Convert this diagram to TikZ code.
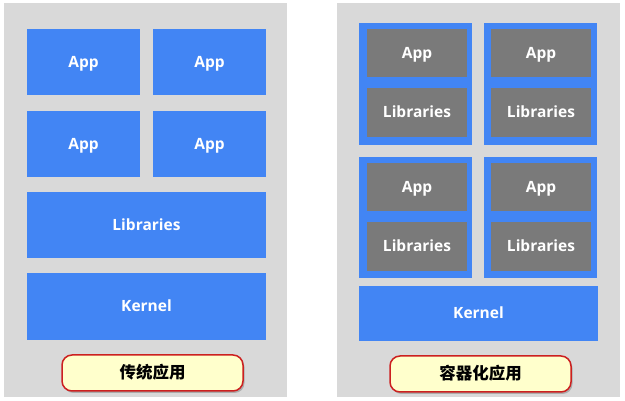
\documentclass[tikz,border=0pt]{standalone}
\usepackage{fontspec}
\setmainfont{Open Sans}
\newfontfamily\cjk{Noto Sans CJK SC}
\usetikzlibrary{shapes,arrows,positioning,shadows}
\definecolor{appblue}{HTML}{4285F4}
\definecolor{boxgray}{HTML}{7A7A7A}
\definecolor{panelgray}{HTML}{D9D9D9}
\definecolor{tagfill}{HTML}{FFFFCC}
\definecolor{tagred}{HTML}{CC2020}

\begin{document}
\begin{tikzpicture}[x=1pt,y=-1pt]
	\tikzstyle{every node}=[font=\bfseries\fontsize{15.5}{17}\selectfont, text=white, inner sep=0pt,
	text height=11pt, text depth=0pt]
	\tikzstyle{bluebox}=[fill=appblue, minimum width=113pt, minimum height=66pt]
	\tikzstyle{layer}=[fill=appblue, minimum width=239pt]
	\tikzstyle{graybox}=[fill=boxgray, minimum width=100pt, minimum height=48pt]
	\tikzstyle{tag}=[draw=tagred, line width=1.5pt, fill=tagfill, rounded corners=10pt,
	minimum width=181pt, minimum height=36pt, text=black, text height=13pt, text depth=1pt,
	font=\cjk\bfseries\fontsize{16.5}{18}\selectfont,
	drop shadow={shadow xshift=1.5pt, shadow yshift=-2pt, opacity=0.5}]

	\useasboundingbox (0,0) rectangle (625,401);
	% two gray panels
	\fill[panelgray] (4,3) rectangle (287,397);
	\fill[panelgray] (337,3) rectangle (620,397);

	% left: traditional
	\node[bluebox] (app1) at (83.5,62) {App};
	\node[bluebox] (app2) at (209.5,62) {App};
	\node[bluebox] (app3) at (83.5,144) {App};
	\node[bluebox] (app4) at (209.5,144) {App};
	\node[layer, minimum height=66pt] (libs) at (146.5,225) {Libraries};
	\node[layer, minimum height=67pt] (kernelL) at (146.5,306.5) {Kernel};
	\node[tag] (tagL) at (152.5,373) {传统应用};

	% right: containers, each one is a blue box with app + libraries inside
	\node[fill=appblue, minimum width=113pt, minimum height=122pt] (box1) at (415.5,84) {};
	\node[fill=appblue, minimum width=113pt, minimum height=122pt] (box2) at (540.5,84) {};
	\node[fill=appblue, minimum width=113pt, minimum height=121pt] (box3) at (415.5,217.5) {};
	\node[fill=appblue, minimum width=113pt, minimum height=121pt] (box4) at (540.5,217.5) {};
	\node[graybox] (capp1) at (417,53) {App};
	\node[graybox, minimum height=49pt] (clib1) at (417,112.5) {Libraries};
	\node[graybox] (capp2) at (541,53) {App};
	\node[graybox, minimum height=49pt] (clib2) at (541,112.5) {Libraries};
	\node[graybox] (capp3) at (417,187) {App};
	\node[graybox, minimum height=49pt] (clib3) at (417,246.5) {Libraries};
	\node[graybox] (capp4) at (541,187) {App};
	\node[graybox, minimum height=49pt] (clib4) at (541,246.5) {Libraries};
	\node[layer, minimum height=55pt] (kernelR) at (478.5,313.5) {Kernel};
	\node[tag] (tagR) at (480.5,374) {容器化应用};
\end{tikzpicture}
\end{document}
